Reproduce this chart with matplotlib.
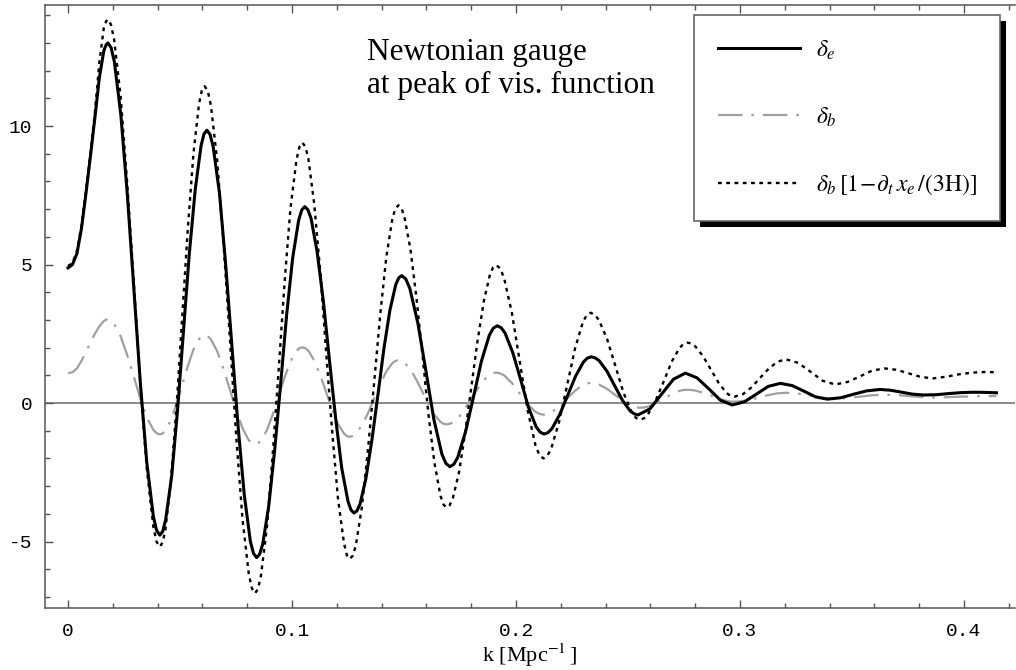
import matplotlib
matplotlib.use("Agg")
import matplotlib.pyplot as plt
from matplotlib.patches import Rectangle
from matplotlib.transforms import IdentityTransform
from matplotlib.ticker import MultipleLocator, FuncFormatter

plt.rcParams['font.family'] = 'Liberation Serif'
plt.rcParams['mathtext.fontset'] = 'stix'
plt.rcParams['axes.unicode_minus'] = False

# delta_e (solid)
k_e = [0.0, 0.002, 0.004, 0.006, 0.008, 0.010, 0.012, 0.014, 0.016, 0.017,
       0.0178, 0.01925, 0.0207, 0.0236, 0.0265, 0.0294, 0.0323, 0.0352, 0.0381, 0.03955,
       0.0410, 0.04231, 0.0436, 0.0463, 0.0489, 0.0515, 0.0541, 0.0568, 0.0594, 0.06069,
       0.0620, 0.06339, 0.0648, 0.0676, 0.0703, 0.0731, 0.0759, 0.0787, 0.0814, 0.08281,
       0.0842, 0.08554, 0.0869, 0.0896, 0.0923, 0.0950, 0.0976, 0.1003, 0.1030, 0.10436,
       0.1057, 0.10708, 0.1085, 0.1112, 0.1140, 0.1167, 0.1195, 0.1222, 0.1250, 0.12633,
       0.1277, 0.12903, 0.1304, 0.1330, 0.1357, 0.1384, 0.1410, 0.1437, 0.1463, 0.14767,
       0.1490, 0.15079, 0.1526, 0.1562, 0.1598, 0.1633, 0.1669, 0.16871,
       0.1705, 0.17226, 0.1740, 0.1775, 0.1811, 0.1846, 0.1881, 0.18984,
       0.1916, 0.19334, 0.1951, 0.1986, 0.2021, 0.2055, 0.2090, 0.21076,
       0.2125, 0.21426, 0.2160, 0.2195, 0.2231, 0.2266, 0.2301, 0.23184,
       0.2336, 0.23534, 0.2371, 0.2406, 0.2441, 0.2475, 0.2510, 0.25276,
       0.2545, 0.2598, 0.2651, 0.2703,
       0.2756, 0.2808, 0.2861, 0.2913,
       0.2965, 0.3019, 0.3073, 0.3126,
       0.3180, 0.3233, 0.3285, 0.3338,
       0.3390, 0.3449, 0.3508, 0.3566,
       0.3625, 0.3674, 0.3723, 0.3771,
       0.3820, 0.3875, 0.3930, 0.3985, 0.4040, 0.4092, 0.4145]
delta_e = [4.88, 5.00, 5.40, 6.30, 7.55, 8.90, 10.30, 11.75, 12.72, 12.93,
           13.00, 12.83, 12.32, 10.40, 7.51, 4.12, 0.72, -2.17, -4.09, -4.60,
           -4.77, -4.63, -4.21, -2.63, -0.26, 2.54, 5.34, 7.71, 9.29, 9.71,
           9.85, 9.70, 9.26, 7.59, 5.09, 2.14, -0.82, -3.32, -4.99, -5.43,
           -5.58, -5.46, -5.10, -3.73, -1.67, 0.76, 3.18, 5.24, 6.61, 6.97,
           7.09, 6.98, 6.67, 5.47, 3.68, 1.56, -0.56, -2.35, -3.55, -3.86,
           -3.97, -3.89, -3.64, -2.72, -1.32, 0.32, 1.95, 3.35, 4.27, 4.52,
           4.60, 4.48, 4.14, 2.88, 1.15, -0.58, -1.84, -2.18,
           -2.30, -2.21, -1.96, -1.03, 0.25, 1.52, 2.45, 2.70,
           2.79, 2.72, 2.53, 1.81, 0.84, -0.14, -0.86, -1.05,
           -1.12, -1.07, -0.93, -0.42, 0.28, 0.97, 1.48, 1.62,
           1.67, 1.63, 1.53, 1.15, 0.62, 0.10, -0.29, -0.39,
           -0.43, -0.21, 0.33, 0.86,
           1.08, 0.91, 0.51, 0.10,
           -0.07, 0.04, 0.32, 0.60,
           0.71, 0.63, 0.43, 0.22,
           0.14, 0.19, 0.32, 0.44,
           0.49, 0.46, 0.39, 0.32,
           0.29, 0.30, 0.34, 0.375, 0.39, 0.385, 0.37]

# delta_b (gray dash-dot) and delta_b[1 - d_t x_e/(3H)] (dotted)
k_b = [0.0, 0.002, 0.004, 0.006, 0.008, 0.010, 0.012, 0.014, 0.016, 0.017,
       0.0177, 0.01916, 0.0206, 0.0235, 0.0264, 0.0294, 0.0323, 0.0352, 0.0381, 0.03954,
       0.0410, 0.04225, 0.0435, 0.0460, 0.0485, 0.0510, 0.0535, 0.0560, 0.0585, 0.05975,
       0.0610, 0.06241, 0.0638, 0.0666, 0.0694, 0.0723, 0.0751, 0.0779, 0.0807, 0.08209,
       0.0835, 0.08482, 0.0861, 0.0888, 0.0914, 0.0941, 0.0967, 0.0993, 0.1020, 0.10328,
       0.1046, 0.10593, 0.1073, 0.1099, 0.1126, 0.1152, 0.1179, 0.1205, 0.1232, 0.12447,
       0.1258, 0.12716, 0.1285, 0.1312, 0.1339, 0.1367, 0.1394, 0.1421, 0.1448, 0.14614,
       0.1475, 0.14884, 0.1502, 0.1529, 0.1556, 0.1583, 0.1609, 0.1636, 0.1663, 0.16766,
       0.1690, 0.17039, 0.1718, 0.1746, 0.1773, 0.1801, 0.1829, 0.1857, 0.1884, 0.18981,
       0.1912, 0.19295, 0.1947, 0.1982, 0.2017, 0.2052, 0.2087, 0.21045,
       0.2122, 0.21396, 0.2157, 0.2192, 0.2228, 0.2263, 0.2298, 0.23154,
       0.2333, 0.23514, 0.2370, 0.2407, 0.2444, 0.2480, 0.2517, 0.25356,
       0.2554, 0.25716, 0.2589, 0.2624, 0.2660, 0.2695, 0.2730, 0.27474,
       0.2765, 0.27825, 0.2800, 0.2835, 0.2870, 0.2905, 0.2940, 0.29575,
       0.2975, 0.3013, 0.3052, 0.3090, 0.3128, 0.3167,
       0.3205, 0.3260, 0.3315, 0.3370,
       0.3425, 0.3480, 0.3535, 0.3590,
       0.3645, 0.3699, 0.3754, 0.3808,
       0.3862, 0.3920, 0.3980, 0.4040, 0.4095, 0.4145]
delta_b = [1.08, 1.11, 1.25, 1.52, 1.85, 2.18, 2.50, 2.77, 2.96, 3.01,
           3.02, 2.98, 2.86, 2.41, 1.74, 0.95, 0.15, -0.52, -0.97, -1.09,
           -1.13, -1.10, -0.99, -0.61, -0.02, 0.66, 1.34, 1.93, 2.31, 2.42,
           2.45, 2.41, 2.30, 1.87, 1.23, 0.48, -0.27, -0.91, -1.34, -1.45,
           -1.49, -1.46, -1.36, -0.98, -0.41, 0.26, 0.93, 1.50, 1.88, 1.98,
           2.01, 1.98, 1.89, 1.54, 1.01, 0.40, -0.22, -0.75, -1.10, -1.19,
           -1.22, -1.19, -1.11, -0.81, -0.37, 0.17, 0.69, 1.14, 1.44, 1.52,
           1.55, 1.53, 1.46, 1.21, 0.83, 0.39, -0.05, -0.43, -0.68, -0.75,
           -0.77, -0.75, -0.70, -0.50, -0.19, 0.17, 0.52, 0.83, 1.03, 1.08,
           1.10, 1.07, 1.00, 0.72, 0.34, -0.04, -0.32, -0.39,
           -0.42, -0.40, -0.34, -0.13, 0.16, 0.44, 0.65, 0.71,
           0.73, 0.72, 0.67, 0.51, 0.28, 0.06, -0.11, -0.16,
           -0.17, -0.16, -0.13, -0.01, 0.16, 0.32, 0.44, 0.47,
           0.48, 0.47, 0.45, 0.37, 0.27, 0.16, 0.08, 0.05,
           0.05, 0.07, 0.13, 0.21, 0.29, 0.35,
           0.37, 0.34, 0.27, 0.19,
           0.16, 0.18, 0.23, 0.28,
           0.30, 0.29, 0.25, 0.22,
           0.20, 0.21, 0.23, 0.245, 0.25, 0.25]
delta_bx = [4.95, 5.05, 5.50, 6.40, 7.65, 9.00, 10.50, 12.30, 13.55, 13.78,
            13.85, 13.67, 13.12, 11.06, 7.97, 4.33, 0.69, -2.40, -4.47, -5.01,
            -5.19, -5.03, -4.56, -2.76, -0.06, 3.13, 6.31, 9.01, 10.81, 11.28,
            11.44, 11.26, 10.74, 8.76, 5.79, 2.29, -1.22, -4.19, -6.17, -6.69,
            -6.87, -6.71, -6.25, -4.49, -1.85, 1.27, 4.38, 7.02, 8.78, 9.24,
            9.40, 9.26, 8.83, 7.20, 4.76, 1.89, -0.99, -3.43, -5.06, -5.49,
            -5.63, -5.51, -5.14, -3.76, -1.69, 0.76, 3.20, 5.27, 6.65, 7.02,
            7.14, 7.04, 6.72, 5.54, 3.77, 1.69, -0.40, -2.17, -3.35, -3.67,
            -3.77, -3.69, -3.44, -2.49, -1.07, 0.61, 2.28, 3.70, 4.65, 4.90,
            4.98, 4.86, 4.51, 3.24, 1.49, -0.26, -1.53, -1.88,
            -2.00, -1.91, -1.65, -0.69, 0.63, 1.95, 2.91, 3.17,
            3.26, 3.19, 3.00, 2.30, 1.33, 0.37, -0.34, -0.54,
            -0.60, -0.55, -0.41, 0.10, 0.79, 1.49, 1.99, 2.13,
            2.18, 2.15, 2.05, 1.69, 1.21, 0.72, 0.36, 0.26,
            0.23, 0.32, 0.57, 0.91, 1.24, 1.49,
            1.58, 1.45, 1.13, 0.80,
            0.67, 0.76, 0.96, 1.17,
            1.25, 1.20, 1.07, 0.94,
            0.89, 0.95, 1.04, 1.10, 1.12, 1.11]

labels = [r'$\delta_e$', r'$\delta_b$',
          r'$\delta_b\,[1\!-\!\partial_t\,x_e\,/(3\mathrm{H})]$']

W, H = 1016, 670
fig = plt.figure(figsize=(W / 100, H / 100), dpi=100)
ax = fig.add_axes([45 / W, 1 - 608 / H, (1015 - 45) / W, (608 - 5) / H])
ax.set_xlim(-0.01027, 0.42277)
ax.set_ylim(-7.40, 14.37)

ax.axhline(0, color='#777777', lw=1.2, zorder=1)
l_b, = ax.plot(k_b, delta_b, color='#a0a0a0', lw=1.6, dashes=(11, 4, 1.2, 4), label=labels[1])
l_x, = ax.plot(k_b, delta_bx, color='black', lw=1.7, dashes=(1.6, 1.9), label=labels[2])
l_e, = ax.plot(k_e, delta_e, color='black', lw=2.2, label=labels[0])

# frame: left, bottom and top, no right spine
for s in ['left', 'bottom', 'top']:
    ax.spines[s].set_color('#555555')
    ax.spines[s].set_linewidth(1.1)
ax.spines['right'].set_visible(False)

ax.xaxis.set_major_locator(MultipleLocator(0.1))
ax.xaxis.set_minor_locator(MultipleLocator(0.02))
ax.yaxis.set_major_locator(MultipleLocator(5))
ax.yaxis.set_minor_locator(MultipleLocator(1))
fmt = FuncFormatter(lambda v, p: '0' if abs(v) < 1e-9 else '{:g}'.format(round(v, 3)))
ax.xaxis.set_major_formatter(fmt)
ax.yaxis.set_major_formatter(fmt)
ax.tick_params(which='both', direction='in', top=True, right=False, color='#555555', width=1)
ax.tick_params(which='major', length=5.5, labelsize=14, labelfontfamily='Liberation Mono')
ax.tick_params(axis='x', which='major', pad=11)
ax.tick_params(axis='y', which='major', pad=9)
ax.tick_params(which='minor', length=3.5)

ax.set_xlabel(r'k [Mpc$^{-1}\,$]', fontsize=16, labelpad=1)

fig.text(367 / W, 1 - 60 / H, 'Newtonian gauge', fontsize=22.5, va='baseline')
fig.text(367 / W, 1 - 93 / H, 'at peak of vis. function', fontsize=22.5, va='baseline')

leg = ax.legend(handles=[l_e, l_b, l_x], loc='upper right',
                bbox_to_anchor=(1000 / W, 1 - 15 / H), bbox_transform=fig.transFigure,
                borderaxespad=0, fontsize=17, handlelength=3.5, handletextpad=0.65,
                labelspacing=1.85, borderpad=1.0, fancybox=False, framealpha=1,
                edgecolor='#666666')
leg.get_frame().set_linewidth(1.2)

fig.canvas.draw()
bb = leg.get_window_extent()
ax.add_patch(Rectangle((bb.x0 + 6, bb.y0 - 6), bb.width, bb.height,
                       transform=IdentityTransform(), facecolor='black',
                       edgecolor='none', zorder=4.9, clip_on=False))

fig.savefig('out.png', dpi=100)
